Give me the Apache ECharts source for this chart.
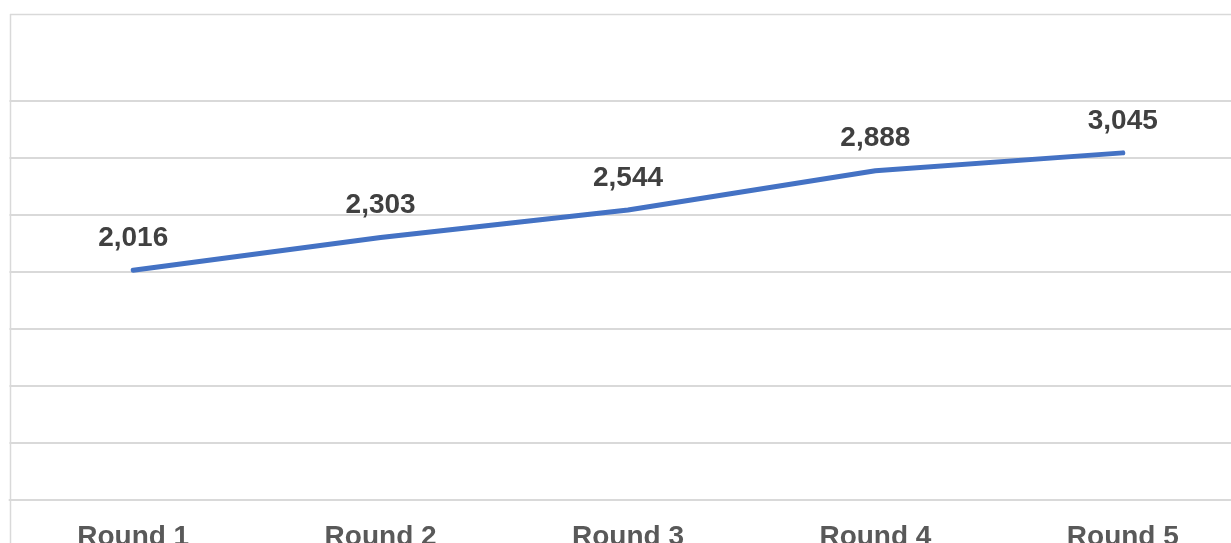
<!DOCTYPE html>
<html>
<head>
<meta charset="utf-8">
<script src="https://cdn.jsdelivr.net/npm/echarts@6/dist/echarts.min.js"></script>
<style>
  html, body { margin: 0; padding: 0; background: #ffffff; }
  #chart { width: 1231px; height: 543px; }
</style>
</head>
<body>
<div id="chart"></div>
<script>
// Rounds and totals for each round
const rounds = ['Round 1', 'Round 2', 'Round 3', 'Round 4', 'Round 5'];
const totals = [2016, 2303, 2544, 2888, 3045];
const yTicks = [0, 500, 1000, 1500, 2000, 2500, 3000, 3500];

const fmt = v => v.toLocaleString('en-US');
const FONT = 'Liberation Sans, Arial, sans-serif';
const LINE_COLOR = '#4472c4';

const chart = echarts.init(document.getElementById('chart'));
chart.setOption({
  animation: false,
  grid: {
    left: 9.5, top: 101, width: 1237, height: 399,
    containLabel: false,
    outerBoundsMode: 'none'
  },
  xAxis: {
    type: 'category',
    data: rounds,
    boundaryGap: true,
    axisLine: { show: true, lineStyle: { color: '#d9d9d9', width: 2 } },
    axisTick: { show: false },
    axisLabel: {
      margin: 23,
      color: '#595959',
      fontFamily: FONT,
      fontWeight: 'bold',
      fontSize: 28
    }
  },
  yAxis: {
    type: 'value',
    min: yTicks[0],
    max: yTicks[yTicks.length - 1],
    interval: 500,
    axisLine: { show: false },
    axisTick: { show: false },
    axisLabel: { show: false },
    splitLine: { lineStyle: { color: '#d9d9d9', width: 2 } }
  },
  graphic: [
    // outer frame: top edge and left edge
    { type: 'line', shape: { x1: 10, y1: 14.5, x2: 1231, y2: 14.5 }, style: { stroke: '#d9d9d9', lineWidth: 1.5 } },
    { type: 'line', shape: { x1: 10.5, y1: 14, x2: 10.5, y2: 543 }, style: { stroke: '#d9d9d9', lineWidth: 1.5 } }
  ],
  series: [{
    type: 'line',
    data: totals,
    showSymbol: true,
    symbol: 'circle',
    symbolSize: 2,
    itemStyle: { color: LINE_COLOR, borderWidth: 0 },
    lineStyle: { color: LINE_COLOR, width: 5, cap: 'round', join: 'round' },
    label: {
      show: true,
      position: 'top',
      distance: 17,
      offset: [3, 0],
      formatter: p => fmt(p.value),
      color: '#404040',
      fontFamily: FONT,
      fontWeight: 'bold',
      fontSize: 28
    },
    labelLayout: { hideOverlap: false }
  }]
});
</script>
</body>
</html>
